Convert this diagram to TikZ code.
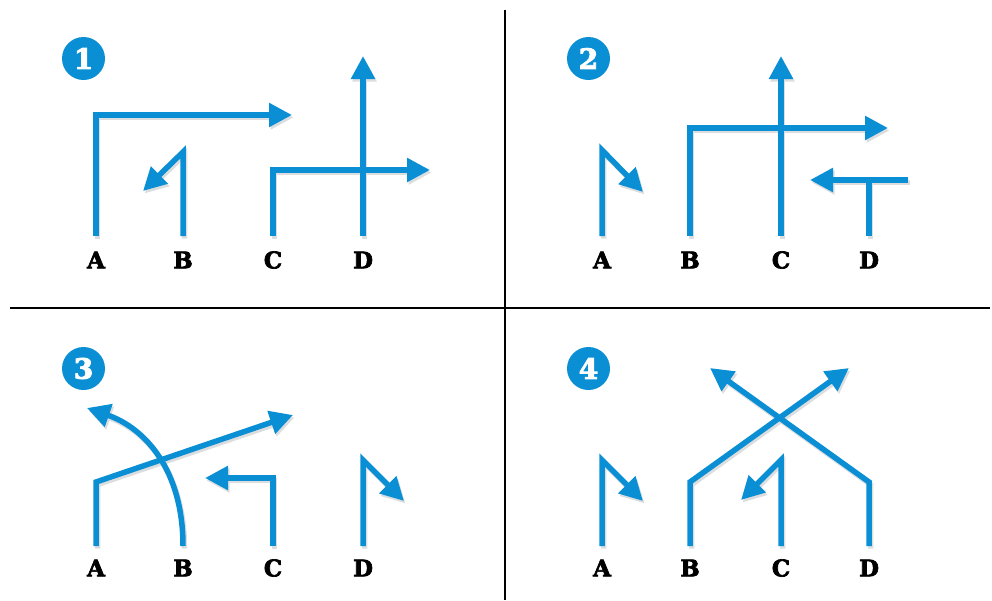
\documentclass[tikz,border=0pt]{standalone}
\usepackage{fontspec}
\setmainfont{DejaVu Serif}
\newfontfamily\slabfont{DejaVu Serif}[BoldFeatures={FakeBold=3}]
\usetikzlibrary{arrows.meta, backgrounds}
\definecolor{pblue}{HTML}{0A8FD5}
\definecolor{pshade}{HTML}{DCDDDF}
\tikzset{
  lane/.style={draw=pblue, line width=5.5pt, -{Triangle[length=23pt,width=23pt]}},
  stem/.style={draw=pblue, line width=5.5pt},
  lbl/.style={font=\slabfont\fontsize{23}{23}\selectfont\bfseries, inner sep=0pt},
  badge/.style={circle, fill=pblue, text=white, minimum size=43pt, inner sep=0pt,
                font=\slabfont\fontsize{28}{28}\selectfont\bfseries},
  divider/.style={draw=black, line width=1.3pt},
}
% blue route with its light grey shadow underneath
\newcommand\route[2][lane]{%
  \begin{scope}[on background layer]
    \begin{scope}[transform canvas={shift={(1.5pt,-2.5pt)}}]
      \draw[#1, draw=pshade] #2;
    \end{scope}
  \end{scope}
  \draw[#1] #2;}

\begin{document}
\begin{tikzpicture}[x=1pt,y=-1pt]
  \useasboundingbox (0,0) rectangle (992,600);
  % dividers
  \coordinate (vtop) at (505,10);  \coordinate (vbot) at (505,600);
  \coordinate (hleft) at (10,308); \coordinate (hright) at (990,308);
  \draw[divider] (vtop) -- (vbot);
  \draw[divider] (hleft) -- (hright);

  % panel 1
  \node[badge] (n1) at (83.5,58.5) {1};
  \node[lbl] (a1) at (96,260) {A};
  \node[lbl] (b1) at (183,260) {B};
  \node[lbl] (c1) at (273,260) {C};
  \node[lbl] (d1) at (363,260) {D};
  \coordinate (a1f) at (96,236);  \coordinate (a1t) at (292,115);
  \coordinate (b1f) at (183,236); \coordinate (b1k) at (183,152); \coordinate (b1t) at (143,191);
  \coordinate (c1f) at (273,236); \coordinate (c1t) at (430,170);
  \coordinate (d1f) at (363,236); \coordinate (d1t) at (363,56);
  \route{(a1f) |- (a1t)}
  \route{(b1f) -- (b1k) -- (b1t)}
  \route{(c1f) |- (c1t)}
  \route{(d1f) -- (d1t)}

  % panel 2
  \node[badge] (n2) at (588.5,58.5) {2};
  \node[lbl] (a2) at (602,260) {A};
  \node[lbl] (b2) at (690,260) {B};
  \node[lbl] (c2) at (781,260) {C};
  \node[lbl] (d2) at (869,260) {D};
  \coordinate (a2f) at (602,236); \coordinate (a2k) at (602,150); \coordinate (a2t) at (643,192);
  \coordinate (b2f) at (690,236); \coordinate (b2t) at (888,128);
  \coordinate (c2f) at (781,236); \coordinate (c2t) at (781,56);
  \coordinate (d2f) at (869,236); \coordinate (d2k) at (869,180);
  \coordinate (d2r) at (908,180); \coordinate (d2t) at (810,180);
  \route{(a2f) -- (a2k) -- (a2t)}
  \route{(b2f) |- (b2t)}
  \route{(c2f) -- (c2t)}
  \route[stem]{(d2f) -- (d2k)}
  \route{(d2r) -- (d2t)}

  % panel 3
  \node[badge] (n3) at (83.5,368.5) {3};
  \node[lbl] (a3) at (96,568) {A};
  \node[lbl] (b3) at (183,568) {B};
  \node[lbl] (c3) at (273,568) {C};
  \node[lbl] (d3) at (363,568) {D};
  \coordinate (a3f) at (96,546);  \coordinate (a3k) at (96,482);  \coordinate (a3t) at (293,415);
  \coordinate (b3f) at (183,546); \coordinate (b3t) at (87,408);
  \coordinate (c3f) at (273,546); \coordinate (c3t) at (205,478);
  \coordinate (d3f) at (363,546); \coordinate (d3k) at (363,460); \coordinate (d3t) at (404,501);
  \route{(a3f) -- (a3k) -- (a3t)}
  \route{(b3f) .. controls (183,470) and (145,428) .. (b3t)}
  \route{(c3f) |- (c3t)}
  \route{(d3f) -- (d3k) -- (d3t)}

  % panel 4
  \node[badge] (n4) at (588.5,368.5) {4};
  \node[lbl] (a4) at (602,568) {A};
  \node[lbl] (b4) at (690,568) {B};
  \node[lbl] (c4) at (781,568) {C};
  \node[lbl] (d4) at (869,568) {D};
  \coordinate (a4f) at (602,546); \coordinate (a4k) at (602,460); \coordinate (a4t) at (643,501);
  \coordinate (b4f) at (690,546); \coordinate (b4k) at (690,482); \coordinate (b4t) at (849,368);
  \coordinate (c4f) at (781,546); \coordinate (c4k) at (781,460); \coordinate (c4t) at (741,500);
  \coordinate (d4f) at (869,546); \coordinate (d4k) at (869,482); \coordinate (d4t) at (710,368);
  \route{(a4f) -- (a4k) -- (a4t)}
  \route{(b4f) -- (b4k) -- (b4t)}
  \route{(c4f) -- (c4k) -- (c4t)}
  \route{(d4f) -- (d4k) -- (d4t)}
\end{tikzpicture}
\end{document}
